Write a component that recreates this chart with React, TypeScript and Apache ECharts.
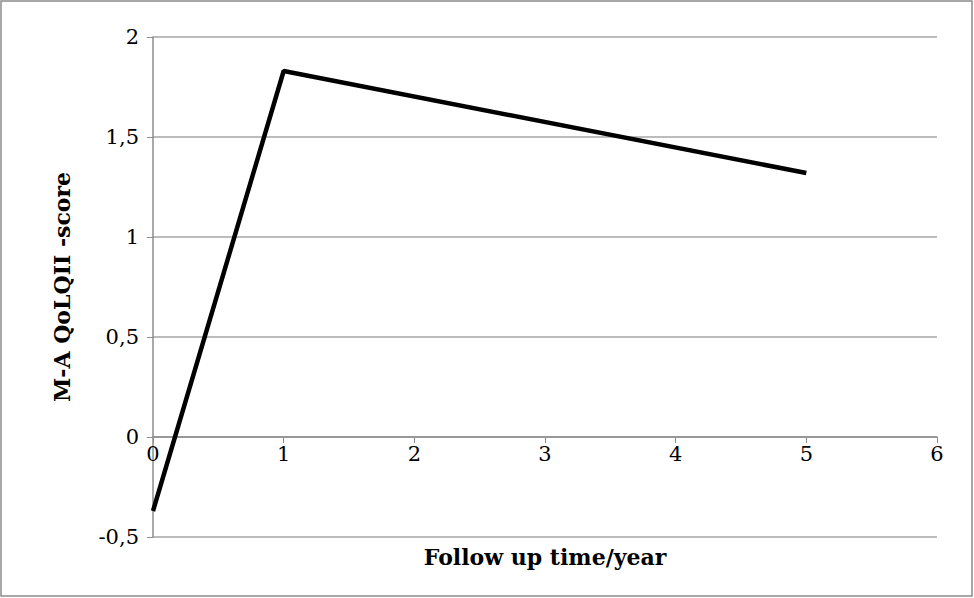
import React, { useEffect, useRef } from "react";
import * as echarts from "echarts";

const years = [0, 1, 5];
const scores = [-0.37, 1.83, 1.32];

const font = "DejaVu Serif";

const App = () => {
  const chartRef = useRef<HTMLDivElement>(null);

  useEffect(() => {
    document.body.style.margin = "0";
    const chartDom = chartRef.current;
    if (!chartDom) return;
    const myChart = echarts.init(chartDom, null, { renderer: "svg" });
    const option = {
      animation: false,
      backgroundColor: "#fff",
      graphic: [
        {
          type: "rect",
          shape: { x: 1, y: 1, width: 971, height: 595 },
          style: { fill: "none", stroke: "#8c8c8c", lineWidth: 1.5 },
        },
      ],
      grid: { left: 153, right: 37, top: 37, bottom: 61, outerBoundsMode: "none", containLabel: false },
      xAxis: {
        type: "value",
        min: 0,
        max: 6,
        interval: 1,
        position: "bottom",
        offset: -100,
        name: "Follow up time/year",
        nameLocation: "middle",
        nameGap: 109,
        nameTextStyle: {
          fontFamily: font,
          fontSize: 22,
          fontWeight: "bold",
          color: "#000",
        },
        axisLine: { onZero: false, lineStyle: { color: "#8c8c8c", width: 1.5 } },
        axisTick: { show: true, length: 6, lineStyle: { color: "#8c8c8c" } },
        axisLabel: { fontFamily: font, fontSize: 21, color: "#000", margin: 6 },
        splitLine: { show: false },
      },
      yAxis: {
        type: "value",
        min: -0.5,
        max: 2,
        interval: 0.5,
        name: "M-A QoLQII -score",
        nameLocation: "middle",
        nameGap: 80,
        nameTextStyle: {
          fontFamily: font,
          fontSize: 22,
          fontWeight: "bold",
          color: "#000",
        },
        axisLine: { show: true, lineStyle: { color: "#8c8c8c", width: 1.5 } },
        axisTick: { show: true, length: 6, lineStyle: { color: "#8c8c8c" } },
        axisLabel: {
          fontFamily: font,
          fontSize: 21,
          color: "#000",
          margin: 14,
          formatter: (v: number) => String(v).replace(".", ","),
        },
        splitLine: { lineStyle: { color: "#a6a6a6", width: 1.5 } },
      },
      series: [
        {
          type: "line",
          data: years.map((x, i) => [x, scores[i]]),
          showSymbol: false,
          lineStyle: { color: "#000", width: 4.5 },
        },
      ],
    };
    myChart.setOption(option);
    return () => myChart.dispose();
  }, []);

  return <div ref={chartRef} style={{ width: 974, height: 598 }}></div>;
};

export default App;
